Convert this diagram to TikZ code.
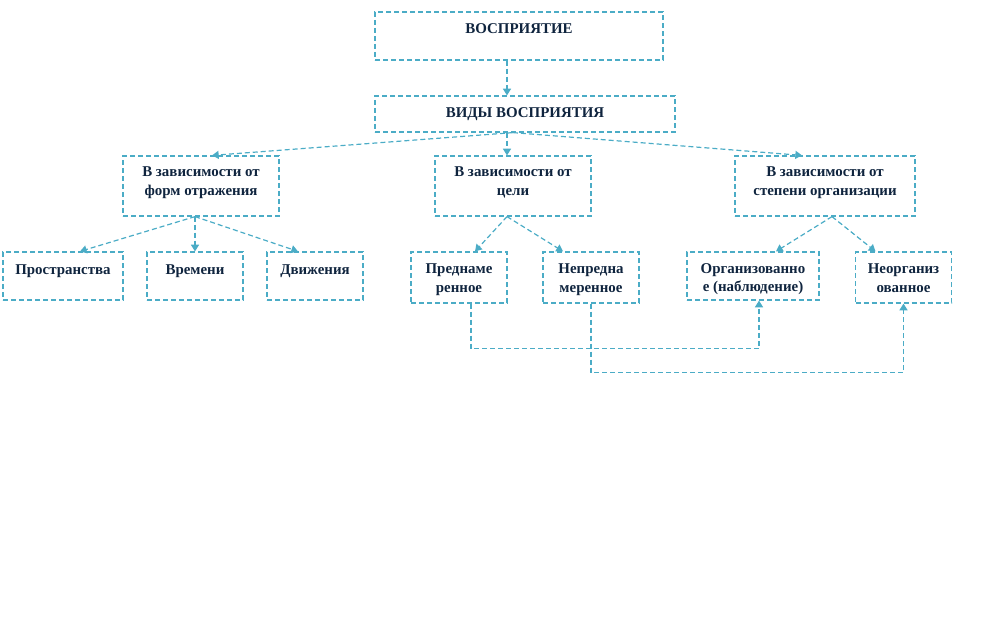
\documentclass[tikz,border=0pt]{standalone}
\usepackage{fontspec}
\setmainfont{Liberation Serif}
\usetikzlibrary{arrows.meta}
\definecolor{lineblue}{HTML}{4BACC6}
\definecolor{textnavy}{HTML}{0F243E}
\tikzset{
  box/.style={draw=lineblue, line width=0.9pt, dash pattern=on 3.75pt off 2.25pt, inner sep=0pt},
  every label/.style={text=textnavy, font=\bfseries\fontsize{11.2}{14}\selectfont, align=center, inner sep=0pt},
}
\begin{document}
\begin{tikzpicture}[x=0.75pt, y=-0.75pt]
      \useasboundingbox (0,0) rectangle (987,624);
      \draw
        (519,36) node[box, minimum width=216pt, minimum height=36pt, label={[yshift=5.25pt]center:ВОСПРИЯТИЕ}] (per){}
        (525,114) node[box, minimum width=225pt, minimum height=27pt, label={[yshift=0pt]center:ВИДЫ ВОСПРИЯТИЯ}] (vid){}
        (201,186) node[box, minimum width=117pt, minimum height=45pt, label={[yshift=2.5pt]center:{В зависимости от\\форм отражения}}] (frm){}
        (513,186) node[box, minimum width=117pt, minimum height=45pt, label={[yshift=2.5pt]center:{В зависимости от\\цели}}] (goal){}
        (825,186) node[box, minimum width=135pt, minimum height=45pt, label={[yshift=2.5pt]center:{В зависимости от\\степени организации}}] (org){}
        (63,276) node[box, minimum width=90pt, minimum height=36pt, label={[yshift=3.75pt]center:Пространства}] (spc){}
        (195,276) node[box, minimum width=72pt, minimum height=36pt, label={[yshift=3.75pt]center:Времени}] (tim){}
        (315,276) node[box, minimum width=72pt, minimum height=36pt, label={[yshift=3.75pt]center:Движения}] (mov){}
        (459,277.5) node[box, minimum width=72pt, minimum height=38.25pt, label={[yshift=-1.5pt]center:{Предна\-ме\\ренное}}] (prem){}
        (591,277.5) node[box, minimum width=72pt, minimum height=38.25pt, label={[yshift=-1.5pt]center:{Непредна\\меренное}}] (unprem){}
        (753,276) node[box, minimum width=99pt, minimum height=36pt, label={[yshift=-2.25pt]center:{Организованно\\е (наблюдение)}}] (orgd){}
        (903.5,277.5) node[box, minimum width=72pt, minimum height=38.25pt, label={[yshift=-0.75pt]center:{Неорганиз\\ованное}}] (unorg){};
      \begin{scope}[draw=lineblue, line width=0.9pt, dash pattern=on 3.75pt off 2.25pt, -{Triangle[width=6pt,length=5pt]}]
        \draw ([xshift=-9pt]per.south) to ([xshift=-13.5pt]vid.north);
        \draw ([xshift=-9pt]vid.south) to ([xshift=8.25pt]frm.north);
        \draw ([xshift=-13.5pt]vid.south) to ([xshift=-4.5pt]goal.north);
        \draw ([xshift=-9pt]vid.south) to ([xshift=-17.25pt]org.north);
        \draw ([xshift=-4.5pt]frm.south) to ([xshift=12.75pt]spc.north);
        \draw ([xshift=-4.5pt]frm.south) to (tim.north);
        \draw ([xshift=-4.5pt]frm.south) to ([xshift=-12.75pt]mov.north);
        \draw ([xshift=-4.5pt]goal.south) to ([xshift=12pt]prem.north);
        \draw ([xshift=-4.5pt]goal.south) to ([xshift=-21pt]unprem.north);
        \draw ([xshift=5.25pt]org.south) to ([xshift=17.25pt]orgd.north);
        \draw ([xshift=5.25pt]org.south) to ([xshift=-21pt]unorg.north);
        \draw ([xshift=9pt]prem.south) -- ++(0,45) -| ([xshift=4.5pt]orgd.south);
        \draw (unprem.south) -- ++(0,69) -| (unorg.south);
      \end{scope}
    \end{tikzpicture}
\end{document}
